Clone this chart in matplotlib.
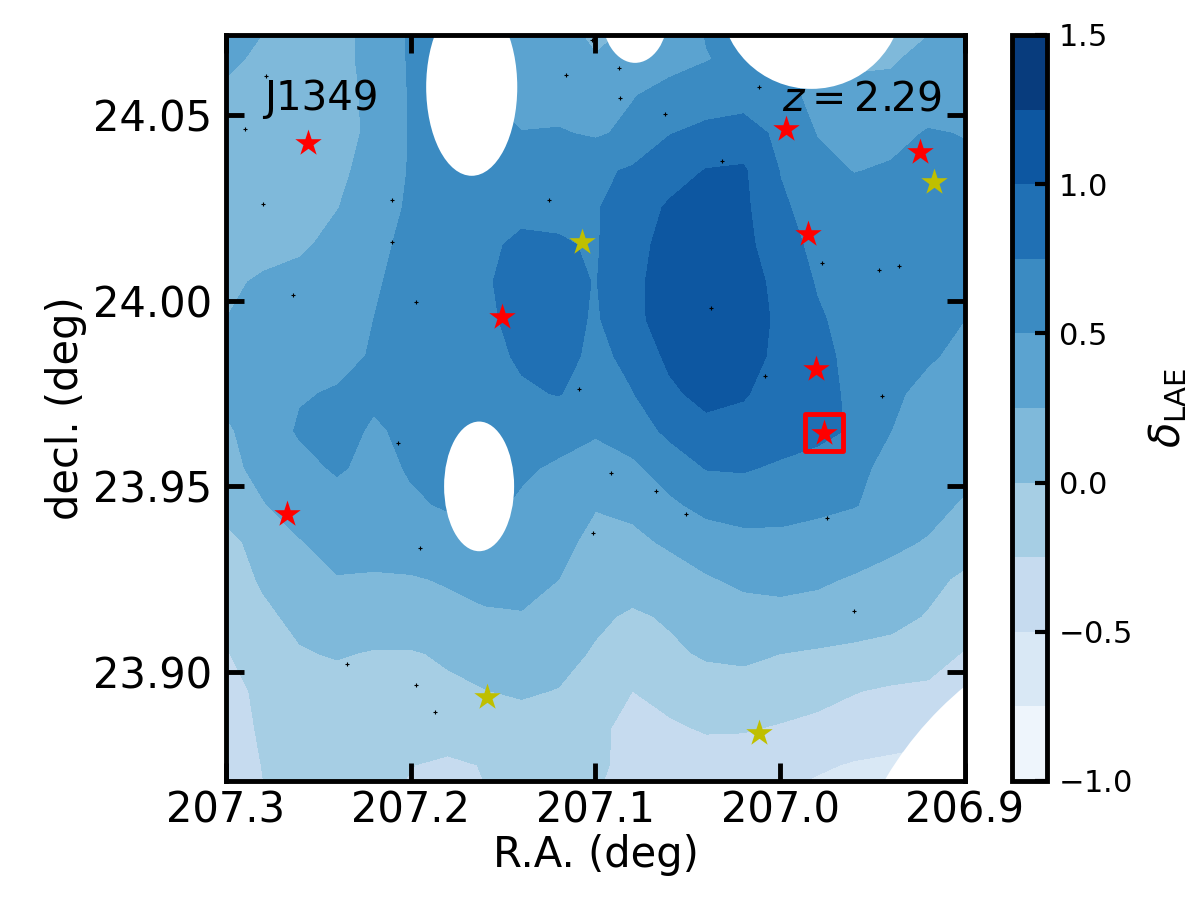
import numpy as np
import matplotlib
matplotlib.use('Agg')
import matplotlib.pyplot as plt
from matplotlib.patches import Ellipse

# grid of the overdensity map
ra_grid = [207.30, 207.28, 207.26, 207.24, 207.22, 207.20, 207.18, 207.16, 207.14, 207.12, 207.10,
           207.08, 207.06, 207.04, 207.02, 207.00, 206.98, 206.96, 206.94, 206.92, 206.90]
dec_grid = [24.075, 24.065, 24.055, 24.045, 24.035, 24.025, 24.015, 24.005, 23.995, 23.985, 23.975,
            23.965, 23.955, 23.945, 23.935, 23.925, 23.915, 23.905, 23.895, 23.885, 23.875, 23.865]
delta_grid = [
    [.33, .27, .16, .20, .30, .53, .60, .50, .38, .28, .20, .25, .35, .52, .55, .55, .40, .20, .10, .20, .30],
    [.30, .20, .13, .20, .30, .53, .60, .50, .40, .30, .26, .33, .42, .49, .55, .55, .40, .20, .22, .33, .35],
    [.20, .13, .10, .17, .30, .52, .60, .50, .38, .40, .42, .49, .58, .62, .66, .60, .42, .33, .33, .37, .37],
    [.17, .10, .10, .18, .29, .52, .60, .60, .51, .52, .47, .55, .74, .82, .85, .70, .49, .38, .42, .52, .49],
    [.10, .07, .10, .20, .33, .52, .58, .60, .62, .65, .70, .78, .90, 1.01, 1.03, .74, .58, .49, .53, .58, .55],
    [.08, .05, .12, .24, .40, .53, .60, .63, .68, .70, .73, .88, 1.03, 1.12, 1.05, .79, .65, .62, .60, .60, .58],
    [.10, .12, .20, .34, .45, .55, .62, .70, .80, .77, .73, .90, 1.10, 1.18, 1.08, .83, .70, .65, .62, .62, .60],
    [.18, .30, .35, .42, .48, .56, .64, .72, .85, .82, .74, .93, 1.13, 1.20, 1.12, .92, .73, .66, .63, .62, .58],
    [.25, .31, .35, .42, .50, .56, .62, .70, .83, .85, .72, .93, 1.12, 1.20, 1.13, .95, .78, .66, .60, .58, .50],
    [.28, .33, .37, .43, .52, .58, .63, .68, .78, .85, .68, .82, 1.05, 1.15, 1.08, .95, .80, .70, .60, .53, .43],
    [.30, .35, .48, .52, .54, .58, .62, .66, .72, .76, .65, .74, .95, 1.08, 1.02, .90, .80, .72, .55, .42, .38],
    [.22, .35, .53, .58, .47, .55, .60, .60, .62, .58, .52, .63, .80, .92, .92, .85, .80, .73, .50, .40, .36],
    [.20, .30, .42, .53, .43, .52, .58, .58, .53, .47, .42, .45, .62, .76, .77, .72, .68, .56, .43, .35, .33],
    [.10, .24, .33, .40, .43, .47, .52, .55, .47, .37, .26, .30, .45, .58, .62, .60, .55, .51, .42, .33, .22],
    [-.08, .10, .24, .32, .36, .38, .40, .40, .38, .30, .20, .20, .28, .36, .42, .43, .41, .36, .30, .23, .13],
    [-.13, .03, .15, .24, .22, .23, .27, .30, .30, .25, .14, .12, .15, .23, .29, .31, .28, .23, .17, .07, -.05],
    [-.20, -.05, .06, .13, .15, .15, .18, .23, .24, .17, .05, -.04, .03, .12, .17, .18, .17, .13, .08, -.02, -.12],
    [-.26, -.17, -.02, .02, -.02, -.02, .03, .09, .12, .09, -.03, -.14, -.05, .03, .05, .00, -.03, -.06, -.09, -.13, -.27],
    [-.33, -.20, -.13, -.10, -.08, -.08, -.04, -.005, .03, -.01, -.13, -.25, -.18, -.12, -.10, -.12, -.16, -.24, -.28, -.30, -.40],
    [-.42, -.20, -.17, -.16, -.15, -.15, -.13, -.12, -.10, -.13, -.20, -.32, -.28, -.23, -.23, -.27, -.32, -.35, -.38, -.42, -.50],
    [-.45, -.24, -.20, -.20, -.22, -.245, -.29, -.24, -.19, -.18, -.22, -.30, -.33, -.35, -.38, -.43, -.47, -.52, -.55, -.58, -.60],
    [-.47, -.27, -.22, -.22, -.24, -.27, -.32, -.26, -.22, -.22, -.25, -.35, -.38, -.42, -.45, -.52, -.58, -.60, -.62, -.64, -.66],
]
levels = [-1.0, -0.75, -0.5, -0.25, 0.0, 0.25, 0.5, 0.75, 1.0, 1.25, 1.5]

# masked regions (ra, dec, width, height in deg)
holes_ra = [207.167, 207.163, 207.0786, 206.983, 206.7782]
holes_dec = [24.0575, 23.950, 24.0769, 24.0816, 23.8228]
holes_w = [0.0493, 0.0379, 0.0357, 0.0990, 0.3832]
holes_h = [0.0478, 0.0349, 0.0258, 0.0492, 0.1903]

# sources
red_ra = [207.2556, 206.9969, 206.9244, 206.985, 207.1506, 206.9806, 206.9763, 207.267]
red_dec = [24.0425, 24.0462, 24.0401, 24.018, 23.9957, 23.9815, 23.9645, 23.9425]
yellow_ra = [206.9168, 207.1073, 207.1587, 207.0115]
yellow_dec = [24.032, 24.0159, 23.8933, 23.8836]
box_ra = [206.9763]
box_dec = [23.9645]
lae_ra = [207.2783, 207.2897, 207.28, 207.2101, 207.2101, 207.2637, 207.1972, 207.116, 207.1019, 207.1252, 207.1089,
          207.0873, 207.0867, 207.0624, 207.0115, 207.0315, 206.9774, 206.9465, 206.9357, 207.0375, 207.0083, 206.9449,
          207.2069, 207.195, 207.1014, 207.2345, 207.1972, 207.1869, 207.0916, 207.0673, 207.051, 206.9747, 206.9601]
lae_dec = [24.0605, 24.0462, 24.0261, 24.0272, 24.0159, 24.0016, 23.9995, 24.0608, 24.0702, 24.0272, 23.9761,
           24.0626, 24.0546, 24.0503, 24.0575, 24.0376, 24.0102, 24.0083, 24.0094, 23.9981, 23.9796, 23.9742,
           23.9618, 23.9333, 23.9374, 23.9022, 23.8965, 23.8892, 23.9535, 23.9487, 23.9425, 23.9414, 23.9164]

ra_ticks = [207.3, 207.2, 207.1, 207.0, 206.9]
dec_ticks = [23.90, 23.95, 24.00, 24.05]
cbar_ticks = [-1.0, -0.5, 0.0, 0.5, 1.0, 1.5]

fig = plt.figure(figsize=(12, 9), dpi=100)
ax = fig.add_axes([226 / 1200, 1 - 781 / 900, 739 / 1200, 746 / 900])

cs = ax.contourf(ra_grid, dec_grid, np.array(delta_grid), levels=levels, cmap='Blues', vmin=-1, vmax=1.5)

for i in range(len(holes_ra)):
    ax.add_patch(Ellipse((holes_ra[i], holes_dec[i]), holes_w[i], holes_h[i], facecolor='white',
                         edgecolor='none', zorder=2))

ax.scatter(lae_ra, lae_dec, s=6, c='k', marker='+', linewidths=0.8, zorder=3)
ax.scatter(red_ra, red_dec, s=400, c='r', marker='*', linewidths=0, zorder=4)
ax.scatter(yellow_ra, yellow_dec, s=400, c='y', marker='*', linewidths=0, zorder=4)
ax.scatter(box_ra, box_dec, s=720, facecolors='none', edgecolors='r', marker='s', linewidths=3.5, zorder=4)

ax.set_xlim(207.3, 206.9)
ax.set_ylim(23.8707, 24.0715)
ax.set_xticks(ra_ticks)
ax.set_xticklabels(['%.1f' % t for t in ra_ticks])
ax.set_yticks(dec_ticks)
ax.set_yticklabels(['%.2f' % t for t in dec_ticks])
ax.tick_params(direction='in', top=True, right=True, length=13, width=3.5, labelsize=30)
ax.tick_params(axis='x', pad=6)
ax.tick_params(axis='y', pad=10)
for sp in ax.spines.values():
    sp.set_linewidth(3.5)
ax.set_xlabel('R.A. (deg)', fontsize=30, labelpad=2)
ax.set_ylabel('decl. (deg)', fontsize=30, labelpad=4)

ax.text(207.2794, 24.0513, 'J1349', fontsize=29, ha='left', va='baseline', zorder=5)
ax.text(206.999, 24.0513, '$z = 2.29$', fontsize=29.5, ha='left', va='baseline', zorder=5)

cax = fig.add_axes([1012 / 1200, 1 - 781 / 900, 35 / 1200, 746 / 900])
cb = fig.colorbar(cs, cax=cax, ticks=cbar_ticks)
cb.ax.set_yticklabels(['$-1.0$', '$-0.5$', '$0.0$', '$0.5$', '$1.0$', '$1.5$'])
cb.ax.tick_params(direction='in', length=9, width=3, labelsize=22, pad=8)
cb.outline.set_linewidth(3.5)
cb.set_label(r'$\delta_{\rm LAE}$', fontsize=30, labelpad=10)

fig.savefig('out.png', dpi=100)
